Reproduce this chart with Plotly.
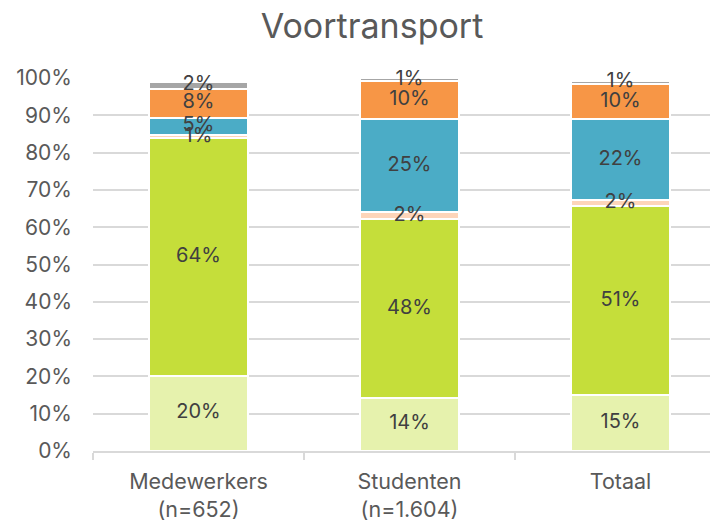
import plotly.graph_objects as go

categories = ["Medewerkers<br>(n=652)", "Studenten<br>(n=1.604)", "Totaal"]
series_names = ["Cat 1", "Cat 2", "Cat 3", "Cat 4", "Cat 5", "Cat 6"]
s1 = [20.2, 14.3, 15.0]
s2 = [63.6, 47.8, 50.6]
s3 = [1.0, 1.9, 1.8]
s4 = [4.6, 25.0, 21.5]
s5 = [7.7, 10.2, 9.6]
s6 = [1.8, 0.8, 0.7]
colors = ["#E6F2AD", "#C5DE3A", "#FDD5BA", "#4BACC6", "#F79646", "#A6A6A6"]
tick_vals = [0, 10, 20, 30, 40, 50, 60, 70, 80, 90, 100]
tick_text = [f"{v}%" for v in tick_vals]

FONT = "Inter"
series = [s1, s2, s3, s4, s5, s6]

fig = go.Figure()
for name, vals, col in zip(series_names, series, colors):
    fig.add_trace(go.Bar(
        x=categories, y=vals, name=name,
        marker=dict(color=col, line=dict(color="white", width=2)),
        width=0.465, showlegend=False, hoverinfo="skip",
    ))

# data labels on top of all bars, centred in each segment
base = [0.0] * len(categories)
for vals in series:
    mids = [b + v / 2 for b, v in zip(base, vals)]
    fig.add_trace(go.Scatter(
        x=categories, y=mids, mode="text",
        text=[f"{round(v):.0f}%" for v in vals],
        textposition="middle center",
        textfont=dict(size=20, color="#404040", family=FONT),
        showlegend=False, hoverinfo="skip", cliponaxis=False,
    ))
    base = [b + v for b, v in zip(base, vals)]

fig.update_layout(
    barmode="stack",
    width=718, height=524,
    margin=dict(l=85, r=0, t=70, b=81),
    paper_bgcolor="white", plot_bgcolor="white",
    font=dict(family=FONT, color="#595959"),
    title=dict(text="Voortransport", x=0.507, xanchor="center", xref="container",
               y=0.966, yanchor="middle", yref="container",
               font=dict(size=34, color="#595959", family=FONT)),
)
fig.update_yaxes(
    range=[0, 100], tickmode="array", tickvals=tick_vals, ticktext=tick_text,
    showgrid=True, gridcolor="#D9D9D9", gridwidth=1.5,
    zeroline=False, showline=False,
    tickfont=dict(size=21, color="#595959"),
    ticklabelstandoff=20,
)
fig.update_xaxes(
    showline=True, linecolor="#D9D9D9", linewidth=1.5,
    ticks="outside", tickson="boundaries", ticklen=7, tickcolor="#D9D9D9", tickwidth=1.5,
    tickfont=dict(size=21.5, color="#595959"),
    ticklabelstandoff=10,
)
fig.write_html("out.html")
